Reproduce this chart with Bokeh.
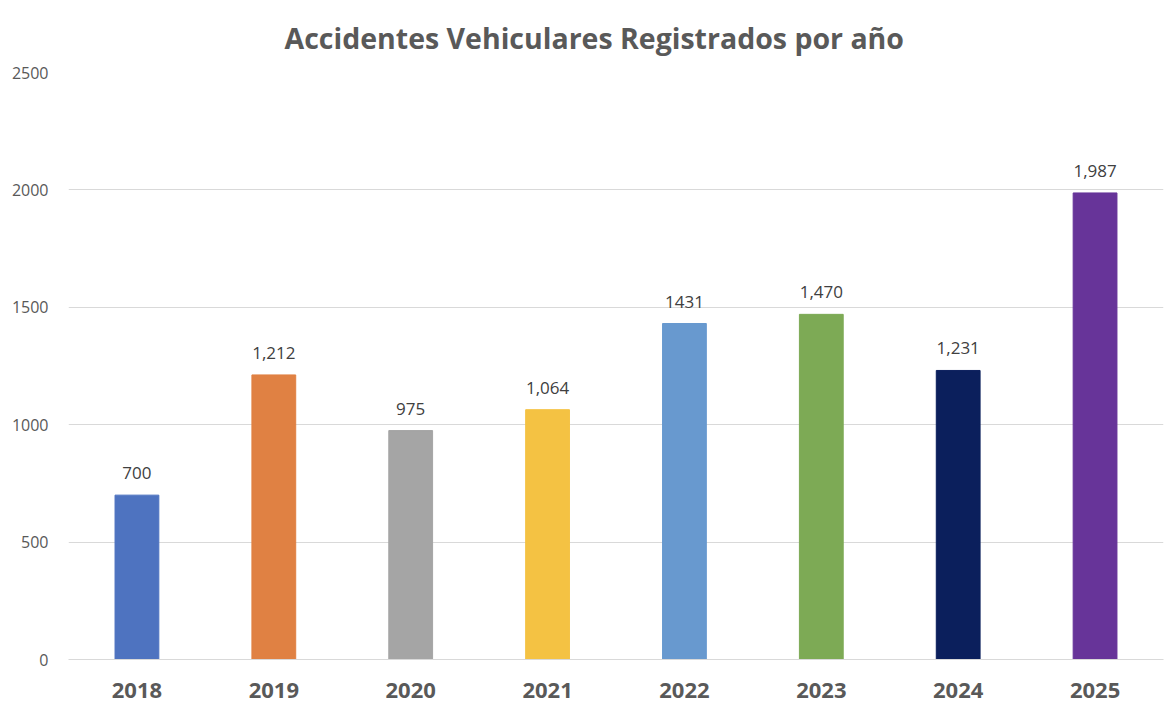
from bokeh.plotting import figure
from bokeh.models import ColumnDataSource, Range1d, FixedTicker, LabelSet
from bokeh.core.properties import value
from bokeh.embed import file_html
from bokeh.resources import INLINE

years = ["2018", "2019", "2020", "2021", "2022", "2023", "2024", "2025"]
values = [700, 1212, 975, 1064, 1431, 1470, 1231, 1987]
value_labels = ["700", "1,212", "975", "1,064", "1431", "1,470", "1,231", "1,987"]
colors = ["#4E73C0", "#E08143", "#A5A5A5", "#F4C243", "#6899CF", "#7DAA55", "#0B1F5C", "#673499"]
y_ticks = [0, 500, 1000, 1500, 2000, 2500]
title_text = "Accidentes Vehiculares Registrados por año"

src = ColumnDataSource(dict(years=years, values=values, labels=value_labels, colors=colors))

p = figure(x_range=years, width=1164, height=702, output_backend="svg",
           toolbar_location=None, min_border_left=68, min_border_right=1,
           min_border_top=72, min_border_bottom=43)
p.y_range = Range1d(0, 2500)

p.vbar(x="years", top="values", width=0.32, color="colors", source=src)

labels = LabelSet(x="years", y="values", text="labels", source=src,
                  text_align="center", text_baseline="alphabetic", y_offset=16,
                  text_font=value("Open Sans"), text_font_size="17px", text_color="#404040")
p.add_layout(labels)

p.title.text = title_text
p.title.align = "left"
p.title.offset = 216
p.title.standoff = 28
p.title.vertical_align = "top"
p.title.text_font = "Open Sans"
p.title.text_font_style = "bold"
p.title.text_font_size = "28.5px"
p.title.text_color = "#595959"

p.outline_line_color = None
p.xgrid.grid_line_color = None
p.ygrid.grid_line_color = "#D9D9D9"
p.ygrid.grid_line_width = 1
p.yaxis.ticker = FixedTicker(ticks=y_ticks)
p.yaxis.axis_line_color = None
p.yaxis.major_tick_line_color = None
p.yaxis.minor_tick_line_color = None
p.yaxis.major_label_text_font = "Open Sans"
p.yaxis.major_label_text_font_size = "16px"
p.yaxis.major_label_text_color = "#595959"
p.yaxis.major_label_standoff = 14

p.xaxis.axis_line_color = "#D9D9D9"
p.xaxis.major_tick_line_color = None
p.xaxis.major_label_text_font = "Open Sans"
p.xaxis.major_label_text_font_style = "bold"
p.xaxis.major_label_text_font_size = "22px"
p.xaxis.major_label_text_color = "#595959"
p.xaxis.major_label_standoff = 17

open("out.html", "w").write(file_html(p, INLINE))
